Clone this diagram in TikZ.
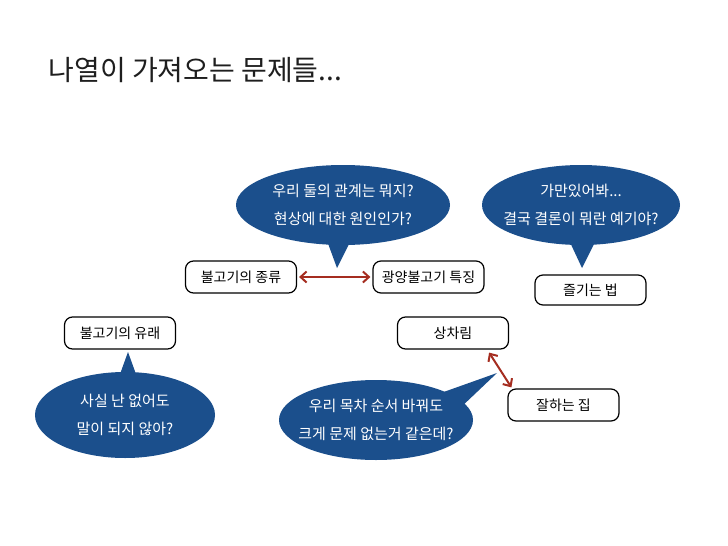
\documentclass[tikz,border=0pt]{standalone}
\usepackage{fontspec}
\setmainfont{Noto Sans CJK KR}
\usetikzlibrary{shapes.geometric,arrows.meta,calc}
\definecolor{callblue}{RGB}{27,79,140}
\definecolor{arrred}{RGB}{165,45,32}
\definecolor{titlegray}{RGB}{30,30,30}
\begin{document}
\begin{tikzpicture}[x=1pt,y=-1pt,
  box/.style={draw=black, line width=1.2pt, rounded corners=8pt, fill=white,
    minimum width=111pt, minimum height=32pt, inner sep=0pt,
    font=\fontsize{14}{16}\selectfont},
  callout/.style={ellipse, fill=callblue, text=white, align=center,
    inner xsep=-30pt, inner ysep=-12pt,
    font=\fontsize{15}{28}\selectfont},
  pointer/.style={fill=callblue},
  link/.style={draw=arrred, line width=2pt,
    {Straight Barb[length=6pt,width=11pt]}-{Straight Barb[length=6pt,width=11pt]}}]
\useasboundingbox (0,0) rectangle (728,546);
\fill[white] (0,0) rectangle (728,546);

\node[anchor=west, text=titlegray, font=\fontsize{28}{32}\selectfont] (title) at (45,70) {나열이 가져오는 문제들...};

% boxes
\node[box] (b1) at (241,277) {불고기의 종류};
\node[box] (b2) at (428.5,277) {광양불고기 특징};
\node[box, minimum height=30pt] (b3) at (590.5,290) {즐기는 법};
\node[box] (b4) at (120,333) {불고기의 유래};
\node[box] (b5) at (453,333) {상차림};
\node[box] (b6) at (563.5,405) {잘하는 집};

% callout pointers
\fill[pointer] (326,238) -- (337,268) -- (352,238) -- cycle;
\fill[pointer] (568,238) -- (582,268) -- (597,238) -- cycle;
\fill[pointer] (115,388) -- (128,352) -- (141,388) -- cycle;
\fill[pointer] (438,394) -- (497,373) -- (458,410) -- cycle;

% callouts
\node[callout, minimum width=214pt, minimum height=80pt] (c1) at (343,205)
  {우리 둘의 관계는 뭐지?\\현상에 대한 원인인가?};
\node[callout, minimum width=198pt, minimum height=80pt] (c2) at (581,205)
  {가만있어봐...\\결국 결론이 뭐란 예기야?};
\node[callout, minimum width=180pt, minimum height=86pt] (c3) at (125,415)
  {사실 난 없어도\\말이 되지 않아?};
\node[callout, minimum width=194pt, minimum height=80pt] (c4) at (376,420)
  {우리 목차 순서 바꿔도\\크게 문제 없는거 같은데?};

% connectors
\draw[link, shorten <=2pt, shorten >=2pt] (b1.east) -- (b2.west);
\coordinate (a1) at ($(b5.south east)+(-20,3)$);
\coordinate (a2) at ($(b6.north west)+(4,-1)$);
\draw[link] (a1) -- (a2);
\end{tikzpicture}
\end{document}
